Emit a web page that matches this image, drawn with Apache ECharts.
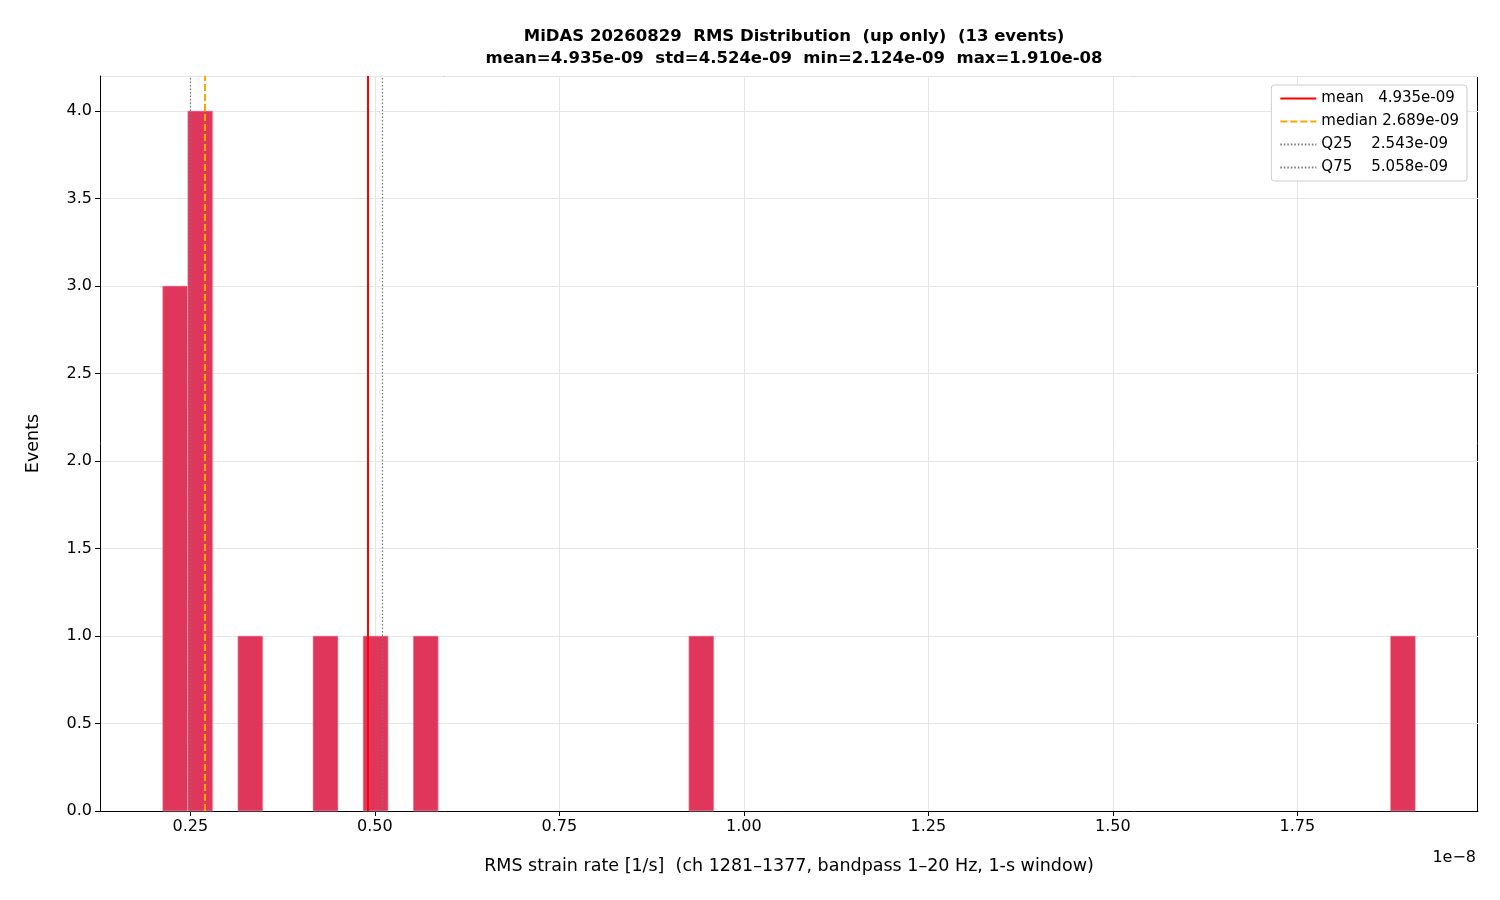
<!DOCTYPE html>
<html><head><meta charset="utf-8">
<script src="https://cdn.jsdelivr.net/npm/echarts@6/dist/echarts.min.js"></script>
<style>html,body{margin:0;padding:0;background:#fff}#c{width:1500px;height:900px}</style>
</head><body><div id="c"></div>
<script>
// values in units of 1e-8
const binMin = 0.2124, binMax = 1.910, nBins = 50;
const binIndex = [0, 1, 3, 6, 8, 10, 21, 49];
const binCount = [3, 4, 1, 1, 1, 1, 1, 1];
const xTicks = [0.25, 0.5, 0.75, 1.0, 1.25, 1.5, 1.75];
const stats = {mean: 0.4935, median: 0.2689, q25: 0.2543, q75: 0.5058};
const titleText = 'MiDAS 20260829  RMS Distribution  (up only)  (13 events)\nmean=4.935e-09  std=4.524e-09  min=2.124e-09  max=1.910e-08';

const w = (binMax - binMin) / nBins;
const data = binIndex.map((b, i) => [binMin + b * w, binMin + (b + 1) * w, binCount[i]]);
const pad = (binMax - binMin) * 0.05;
const font = 'DejaVu Sans';

function vline(name, x, color, type, width) {
  return {
    type: 'line', name: name, data: [], symbol: 'none',
    lineStyle: {color: color, type: type, width: width}, itemStyle: {color: color},
    markLine: {symbol: 'none', silent: true, label: {show: false},
      lineStyle: {color: color, type: type, width: width}, data: [{xAxis: x}]}
  };
}

const chart = echarts.init(document.getElementById('c'));
chart.setOption({
  animation: false,
  textStyle: {fontFamily: font},
  title: {text: titleText, left: 789, top: 21, textAlign: 'center',
    textStyle: {fontFamily: font, fontSize: 16.5, fontWeight: 'bold', color: '#000', lineHeight: 22}},
  grid: {left: 100, right: 22, top: 76, bottom: 89},
  xAxis: {type: 'value', min: binMin - pad, max: binMax + pad,
    name: 'RMS strain rate [1/s]  (ch 1281–1377, bandpass 1–20 Hz, 1-s window)',
    nameLocation: 'middle', nameGap: 46, nameTextStyle: {fontSize: 17.5, color: '#000', fontFamily: font},
    axisLine: {onZero: false, lineStyle: {color: '#000'}},
    axisTick: {show: true, customValues: xTicks, length: 5, lineStyle: {color: '#000'}},
    axisLabel: {customValues: xTicks, fontSize: 16, color: '#000', formatter: v => v.toFixed(2)},
    splitLine: {show: true, lineStyle: {color: '#e6e6e6'}}},
  yAxis: {type: 'value', min: 0, max: 4.2, interval: 0.5,
    name: 'Events', nameLocation: 'middle', nameGap: 58, nameTextStyle: {fontSize: 17.5, color: '#000', fontFamily: font},
    axisLine: {show: true, lineStyle: {color: '#000'}},
    axisTick: {show: true, length: 5, lineStyle: {color: '#000'}},
    axisLabel: {fontSize: 16, color: '#000', formatter: v => v.toFixed(1), showMaxLabel: false},
    splitLine: {show: true, lineStyle: {color: '#e6e6e6'}}},
  legend: {orient: 'vertical', right: 33, top: 85, itemWidth: 36, itemHeight: 14, itemGap: 8,
    padding: [6, 8, 6, 8], borderColor: '#ccc', borderWidth: 1, borderRadius: 3, backgroundColor: '#fff',
    itemStyle: {opacity: 0},
    textStyle: {fontSize: 15, color: '#000', fontFamily: font},
    data: ['mean   4.935e-09', 'median 2.689e-09', 'Q25    2.543e-09', 'Q75    5.058e-09']},
  graphic: [{type: 'text', right: 24, top: 850, style: {text: '1e−8', fontSize: 16, fill: '#000', fontFamily: font}},
    {type: 'line', shape: {x1: 100, y1: 76.5, x2: 1478, y2: 76.5}, style: {stroke: '#000', lineWidth: 1}},
    {type: 'line', shape: {x1: 1477.5, y1: 76, x2: 1477.5, y2: 811}, style: {stroke: '#000', lineWidth: 1}}],
  series: [
    {type: 'custom', name: 'hist', data: data, z: 2,
      renderItem: function (params, api) {
        const p0 = api.coord([api.value(0), api.value(2)]);
        const p1 = api.coord([api.value(1), 0]);
        return {type: 'rect', shape: {x: p0[0], y: p0[1], width: p1[0] - p0[0], height: p1[1] - p0[1]},
          style: {fill: '#e0365b', stroke: '#f4b8c4', lineWidth: 0.6}};
      }},
    vline('mean   4.935e-09', stats.mean, '#ff0000', 'solid', 2),
    vline('median 2.689e-09', stats.median, '#ffa500', [7, 3], 2),
    vline('Q25    2.543e-09', stats.q25, '#777777', [1.5, 2], 1.2),
    vline('Q75    5.058e-09', stats.q75, '#777777', [1.5, 2], 1.2)
  ]
});
</script></body></html>
